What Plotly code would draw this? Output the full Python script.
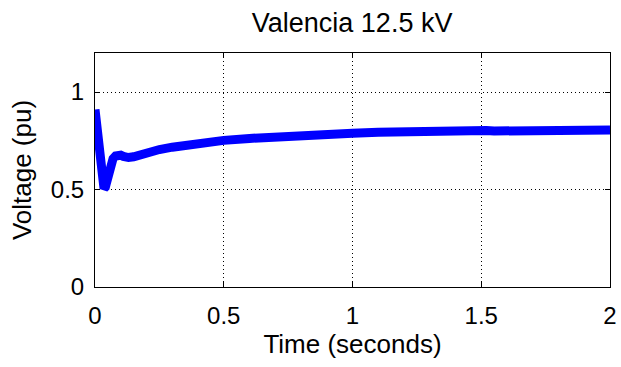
import plotly.graph_objects as go

# Bus voltage at Valencia 12.5 kV during the disturbance
time_s = [0.0, 0.005, 0.01, 0.015, 0.02, 0.025, 0.03, 0.035, 0.04, 0.045,
          0.05, 0.055, 0.06, 0.07, 0.08, 0.09, 0.1, 0.11, 0.12, 0.13, 0.15, 0.18,
          0.2, 0.25, 0.3, 0.35, 0.4, 0.5, 0.6, 0.7, 0.8, 0.9, 1.0, 1.1, 1.2, 1.3,
          1.4, 1.5, 1.52, 1.55, 1.6, 1.7, 1.8, 1.9, 2.0]
voltage_pu = [0.91, 0.85, 0.76, 0.67, 0.6, 0.545, 0.515, 0.505, 0.512, 0.535,
              0.565, 0.6, 0.63, 0.658, 0.672, 0.678, 0.676, 0.67, 0.666, 0.664, 0.668, 0.68,
              0.69, 0.705, 0.717, 0.728, 0.738, 0.752, 0.762, 0.771, 0.778, 0.784, 0.789, 0.794, 0.798, 0.802,
              0.806, 0.812, 0.803, 0.80, 0.80, 0.80, 0.802, 0.804, 0.805]

x_ticks = [0, 0.5, 1, 1.5, 2]
x_tick_text = ["0", "0.5", "1", "1.5", "2"]
y_ticks = [0, 0.5, 1]
y_tick_text = ["0", "0.5", "1"]

font_family = "Liberation Sans, Arial, sans-serif"

fig = go.Figure()
fig.add_trace(go.Scatter(
    x=time_s, y=voltage_pu, mode="lines",
    line=dict(color="#0000ff", width=9),
    showlegend=False,
))

axis_common = dict(
    showline=True, linecolor="black", linewidth=1, mirror="ticks",
    ticks="inside", ticklen=5, tickcolor="black", tickwidth=1,
    showgrid=True, gridcolor="black", gridwidth=1, griddash="1px,3px",
    zeroline=False, automargin=False,
    tickfont=dict(family=font_family, size=24, color="black"),
)

fig.update_xaxes(
    range=[0, 2], tickvals=x_ticks, ticktext=x_tick_text, ticklabelstandoff=7,
    title=dict(text="Time (seconds)", font=dict(family=font_family, size=26, color="black"), standoff=4),
    **axis_common,
)
fig.update_yaxes(
    range=[0, 1.2], tickvals=y_ticks, ticktext=y_tick_text, ticklabelstandoff=5,
    title=dict(text="Voltage (pu)", font=dict(family=font_family, size=26, color="black"), standoff=11),
    **axis_common,
)

fig.update_layout(
    width=621, height=367,
    margin=dict(l=95, r=11, t=53, b=80),
    paper_bgcolor="white", plot_bgcolor="white",
    title=dict(text="Valencia 12.5 kV", x=0.567, xanchor="center", y=0.938, yanchor="middle",
               font=dict(family=font_family, size=27, color="black")),
)

fig.write_html("out.html")
